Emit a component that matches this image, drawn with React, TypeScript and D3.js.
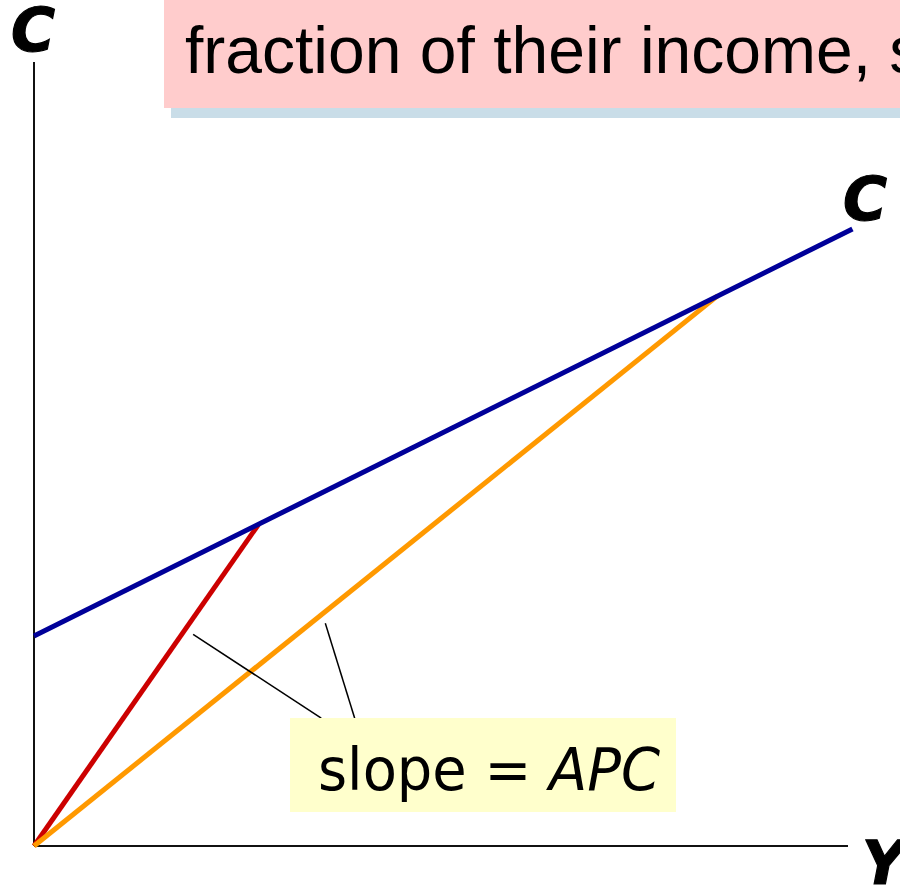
import React from "react";
import * as d3 from "d3";

// Consumption function C = a + b*Y (endpoints)
const cfIncome = [0, 10.03];
const cfConsumption = [2.68, 7.87];
// Points on the consumption function joined to the origin (slope = APC)
const apcIncome = [2.75, 8.38];
const apcConsumption = [4.1, 7.02];
const apcColors = ["#cc0000", "#ff9900"];
// Leader lines from the label to each ray: [fromY, fromC, toY, toC]
const leaderFrom = [[1.95, 2.7], [3.57, 2.84]];
const leaderTo = [[3.52, 1.63], [3.93, 1.63]];
const axisLabels = ["C", "Y"];
const headline = "fraction of their income, s";
const noteText = "slope = ";
const noteItalic = "APC";

const W = 900;
const H = 886;

const labelFont = {
  fontFamily: "'DejaVu Sans', Verdana, sans-serif",
  fontWeight: "bold" as const,
  fontStyle: "italic" as const,
  fontSize: 60,
  stroke: "#000",
  strokeWidth: 1.2,
};

export default function App() {
  const x = d3.scaleLinear().domain([0, 10]).range([34, 850]);
  const y = d3.scaleLinear().domain([0, 10]).range([846, 62]);
  const line = d3
    .line<[number, number]>()
    .x((d) => x(d[0]))
    .y((d) => y(d[1]));

  const cfPts: [number, number][] = cfIncome.map((v, i) => [v, cfConsumption[i]]);

  return (
    <div style={{ position: "absolute", left: 0, top: 0 }}>
      <svg width={W} height={H} style={{ display: "block", background: "#fff" }}>
        {/* headline box */}
        <rect x={171} y={10} width={760} height={108} fill="#c9dde8" />
        <rect x={164} y={-10} width={760} height={118} fill="#ffcccc" />
        <text x={185} y={73} fontFamily="'Liberation Sans', Arial, sans-serif" fontSize={66} fill="#000">
          {headline}
        </text>

        {/* axes */}
        <line x1={x(0)} y1={y(0)} x2={x(0)} y2={y(10)} stroke="#111" strokeWidth={2} />
        <line x1={x(0)} y1={y(0)} x2={x(10) - 2} y2={y(0)} stroke="#111" strokeWidth={2} />
        <text x={11} y={51} {...labelFont}>
          {axisLabels[0]}
        </text>
        <text x={862} y={884} {...labelFont}>
          {axisLabels[1]}
        </text>

        {/* APC rays */}
        {apcIncome.map((v, i) => (
          <path
            key={i}
            d={line([[0, 0], [v, apcConsumption[i]]]) || ""}
            stroke={apcColors[i]}
            strokeWidth={5}
            fill="none"
          />
        ))}

        {/* consumption function */}
        <path d={line(cfPts) || ""} stroke="#000099" strokeWidth={5} fill="none" />
        <text x={843} y={220} {...labelFont}>
          {axisLabels[0]}
        </text>

        {/* leaders */}
        {leaderFrom.map((f, i) => (
          <line
            key={i}
            x1={x(f[0])}
            y1={y(f[1])}
            x2={x(leaderTo[i][0])}
            y2={y(leaderTo[i][1])}
            stroke="#000"
            strokeWidth={1.5}
          />
        ))}

        {/* note box */}
        <rect x={290} y={718} width={386} height={94} fill="#ffffcc" />
        <text
          x={318}
          y={790}
          fontFamily="'DejaVu Sans Condensed', 'DejaVu Sans', Verdana, sans-serif"
          fontSize={58}
          textLength={342}
          lengthAdjust="spacingAndGlyphs"
        >
          {noteText}
          <tspan fontStyle="italic">{noteItalic}</tspan>
        </text>
      </svg>
    </div>
  );
}
